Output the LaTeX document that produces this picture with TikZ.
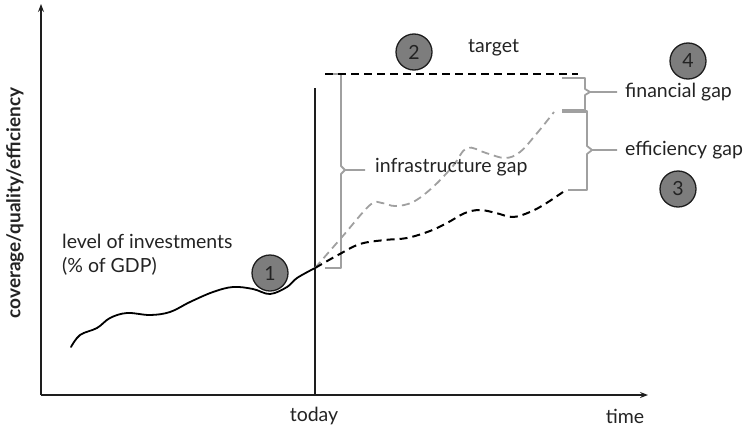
\documentclass[tikz,border=0pt]{standalone}
\usepackage{fontspec}
\setmainfont{Lato}
\usetikzlibrary{arrows.meta}
\definecolor{axiscolor}{RGB}{30,30,30}
\definecolor{gapgray}{RGB}{160,160,160}
\definecolor{markfill}{RGB}{125,125,125}
\definecolor{labelgray}{RGB}{35,35,35}

\begin{document}
\begin{tikzpicture}[x=1pt,y=-1pt,>=Stealth,
    lbl/.style={text=labelgray,font=\fontsize{19.5}{24}\selectfont,inner sep=0pt},
    markcirc/.style={circle,draw=axiscolor,line width=1.3pt,fill=markfill,
      minimum size=36pt,inner sep=0pt,text=labelgray,
      font=\fontsize{19.5}{24}\selectfont},
    gapbrace/.style={gapgray,line width=1.8pt,line join=round},
    trend/.style={line width=1.8pt,smooth,tension=0.6}]
  \useasboundingbox (0,0) rectangle (746,431);

  % --- axes ---
  \coordinate (origin) at (41,395);
  \coordinate (ytop) at (41,4);
  \coordinate (xend) at (648,395);
  \draw[axiscolor,line width=1.1pt,->] (origin) -- (ytop);
  \draw[axiscolor,line width=1.1pt,->] (origin) -- (xend);
  \node[lbl,font=\fontsize{19}{24}\selectfont\bfseries,rotate=90]
    (ylabel) at (15,203) {coverage/quality/efficiency};
  \node[lbl] (timelbl) at (625,416) {time};

  % today marker
  \coordinate (todaytop) at (315,88);
  \coordinate (todaybot) at (315,395);
  \draw[axiscolor,line width=1.1pt] (todaytop) -- (todaybot);
  \node[lbl] (todaylbl) at (314,416) {today};

  % --- gray brackets (drawn first, lines go over them) ---
  % infrastructure gap
  \draw[gapbrace] (325,74) -| (341,166) -- (345,170) -- (365,170);
  \draw[gapbrace] (345,170) -- (341,174) |- (325,268);
  % financial gap
  \draw[gapbrace] (562,78) -| (585,89) -- (590,92) -- (617,92);
  \draw[gapbrace] (590,92) -- (585,95) -- (585,111);
  \draw[gapgray,line width=3.2pt] (562,111) -- (586,111);
  % efficiency gap
  \draw[gapbrace] (586,111) -| (587,146) -- (592,150) -- (617,150);
  \draw[gapbrace] (592,150) -- (587,154) |- (568,190);

  % --- target ---
  \coordinate (tgtstart) at (325,74);
  \coordinate (tgtend) at (578,74);
  \draw[black,line width=1.8pt,dash pattern=on 8pt off 5pt] (tgtstart) -- (tgtend);

  % --- level of investments (past) ---
  \coordinate (now) at (315,268);
  \draw[black,trend,line cap=round] plot coordinates {
    (71,347) (80,335) (97,328) (110,318) (127,313) (150,315) (170,312)
    (190,302) (213,292) (233,287) (253,289) (270,294) (287,287)
    (297,278) (315,268)};

  % projection with full investment (gray dashed)
  \draw[gapgray,trend,dash pattern=on 8pt off 5pt] plot coordinates {
    (315,268) (342,237) (370,205) (382,203) (395,206) (413,202)
    (433,187) (453,166) (467,148) (486,153) (505,158) (520,152)
    (538,132) (554,112)};

  % projection business as usual (black dashed)
  \draw[black,trend,line width=2pt,dash pattern=on 8pt off 5pt] plot coordinates {
    (315,268) (338,255) (360,244) (385,240) (407,238) (430,231)
    (447,223) (465,213) (480,210) (496,213) (513,217) (530,212)
    (545,204) (563,192)};

  % --- numbered markers ---
  \node[markcirc] (m1) at (270,273) {1};
  \node[markcirc] (m2) at (414,52) {2};
  \node[markcirc] (m3) at (678,189) {3};
  \node[markcirc] (m4) at (688,61) {4};

  % --- labels ---
  \node[lbl,anchor=west] (tgtlbl) at (468,48) {target};
  \node[lbl,anchor=west] (infralbl) at (375,167) {infrastructure gap};
  \node[lbl,anchor=west] (finlbl) at (625,92) {financial gap};
  \node[lbl,anchor=west] (efflbl) at (625,150) {efficiency gap};
  \node[lbl,anchor=west,align=left] (investlbl) at (62,255)
    {level of investments\\(\% of GDP)};
\end{tikzpicture}
\end{document}
